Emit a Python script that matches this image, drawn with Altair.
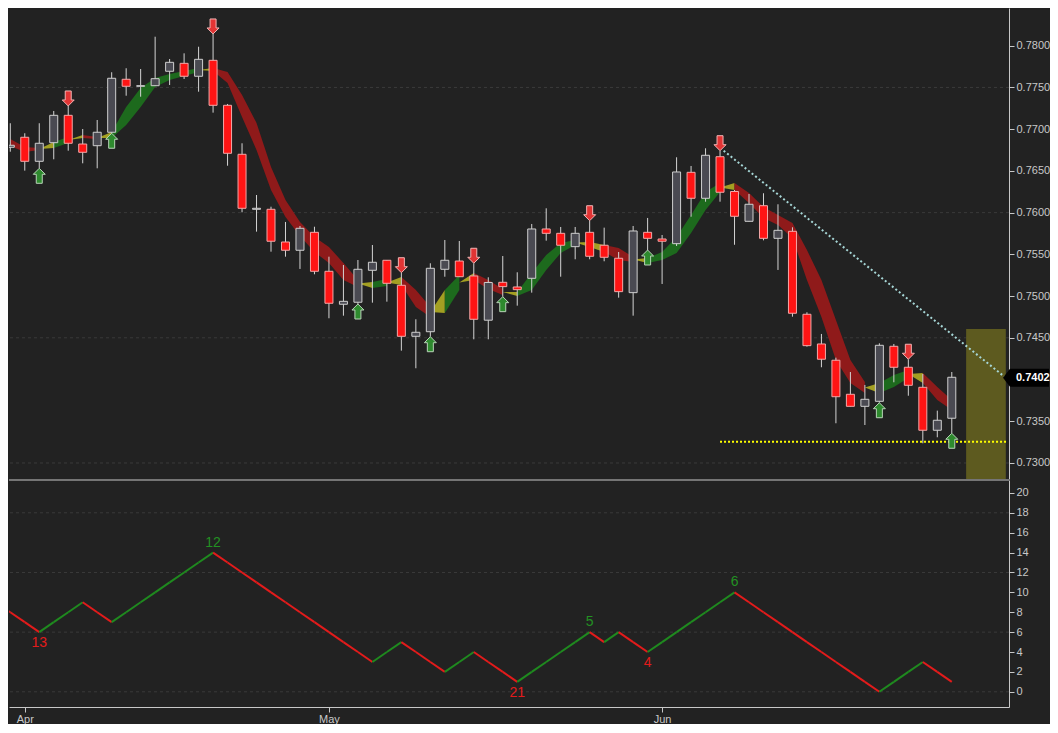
import altair as alt
import pandas as pd

# ---------------- data ----------------
# candle index 0 = Mar 30, one candle per trading day up to Jun 29
opens = [0.76783, 0.76903, 0.76615, 0.76838, 0.77166, 0.76822, 0.76802, 0.76963, 0.77598, 0.77514,
         0.77521, 0.77694, 0.77789, 0.77634, 0.77825, 0.77286, 0.76699, 0.76040, 0.76040, 0.75648,
         0.75549, 0.75764, 0.75297, 0.74902, 0.74926, 0.75309, 0.75429, 0.75129, 0.74518, 0.74573,
         0.75321, 0.75420, 0.75241, 0.74711, 0.75165, 0.75109, 0.75213, 0.75804, 0.75752, 0.75592,
         0.75764, 0.75609, 0.75453, 0.75041, 0.75764, 0.75684, 0.75628, 0.76483, 0.76172, 0.76670,
         0.76253, 0.75896, 0.76083, 0.75692, 0.75776, 0.74782, 0.74426, 0.74231, 0.73823, 0.73679,
         0.73739, 0.74398, 0.74147, 0.73907, 0.73392, 0.73536]
highs = [0.77071, 0.76951, 0.77071, 0.77218, 0.77278, 0.77002, 0.77110, 0.77682, 0.77730, 0.77721,
         0.78108, 0.77841, 0.77909, 0.77988, 0.78141, 0.77302, 0.76831, 0.76211, 0.76071, 0.75888,
         0.75840, 0.75831, 0.75472, 0.75372, 0.75432, 0.75612, 0.75432, 0.75280, 0.74722, 0.75393,
         0.75672, 0.75660, 0.75393, 0.75225, 0.75480, 0.75285, 0.75864, 0.76052, 0.75828, 0.75828,
         0.75903, 0.75820, 0.75528, 0.75840, 0.75936, 0.75732, 0.76663, 0.76559, 0.76771, 0.76742,
         0.76271, 0.76223, 0.76232, 0.76100, 0.75824, 0.74806, 0.74546, 0.74262, 0.74090, 0.73935,
         0.74434, 0.74426, 0.74243, 0.74066, 0.73627, 0.74090]
lows = [0.76730, 0.76503, 0.76531, 0.76639, 0.76742, 0.76591, 0.76531, 0.76951, 0.77401, 0.77389,
        0.77518, 0.77529, 0.77601, 0.77449, 0.77198, 0.76562, 0.76004, 0.75772, 0.75532, 0.75472,
        0.75325, 0.75261, 0.74734, 0.74765, 0.74905, 0.74921, 0.74933, 0.74346, 0.74135, 0.74513,
        0.75232, 0.75229, 0.74482, 0.74482, 0.74993, 0.74885, 0.75041, 0.75664, 0.75232, 0.75441,
        0.75441, 0.75417, 0.74981, 0.74765, 0.75552, 0.75145, 0.75600, 0.75951, 0.76131, 0.76131,
        0.75615, 0.75894, 0.75668, 0.75313, 0.74753, 0.74394, 0.74147, 0.73476, 0.73677, 0.73455,
        0.73722, 0.73967, 0.73806, 0.73236, 0.73308, 0.73356]
closes = [0.76807, 0.76615, 0.76831, 0.77166, 0.76831, 0.76723, 0.76963, 0.77610, 0.77514, 0.77521,
          0.77605, 0.77801, 0.77634, 0.77837, 0.77286, 0.76711, 0.76052, 0.76052, 0.75657, 0.75549,
          0.75812, 0.75297, 0.74914, 0.74937, 0.75321, 0.75405, 0.75153, 0.74518, 0.74566, 0.75333,
          0.75429, 0.75232, 0.74722, 0.75163, 0.75113, 0.75077, 0.75804, 0.75752, 0.75609, 0.75752,
          0.75477, 0.75465, 0.75053, 0.75780, 0.75692, 0.75657, 0.76487, 0.76172, 0.76687, 0.76244,
          0.75956, 0.76100, 0.75692, 0.75788, 0.74794, 0.74406, 0.74243, 0.73794, 0.73679, 0.73763,
          0.74410, 0.74147, 0.73931, 0.73392, 0.73512, 0.74027]

# trend ribbon edges, one pair per candle
ribbon_top = [0.76882, 0.76787, 0.76775, 0.76846, 0.76906, 0.76930, 0.76906, 0.76966, 0.77266, 0.77493,
              0.77613, 0.77661, 0.77697, 0.77733, 0.77733, 0.77685, 0.77410, 0.77074, 0.76547, 0.76151,
              0.75888, 0.75708, 0.75588, 0.75397, 0.75193, 0.75169, 0.75205, 0.75229, 0.75073, 0.74869,
              0.75073, 0.75253, 0.75277, 0.75193, 0.75085, 0.75049, 0.75277, 0.75492, 0.75636, 0.75672,
              0.75648, 0.75612, 0.75576, 0.75468, 0.75456, 0.75528, 0.75708, 0.75972, 0.76247, 0.76355,
              0.76355, 0.76235, 0.76067, 0.75972, 0.75876, 0.75552, 0.75193, 0.74713, 0.74234, 0.73970,
              0.73958, 0.74054, 0.74114, 0.74078, 0.73910, 0.73755]
ribbon_bot = [0.76798, 0.76727, 0.76751, 0.76775, 0.76834, 0.76894, 0.76882, 0.76894, 0.77050, 0.77266,
              0.77505, 0.77589, 0.77637, 0.77685, 0.77697, 0.77553, 0.77146, 0.76751, 0.76271, 0.75948,
              0.75720, 0.75528, 0.75397, 0.75193, 0.75109, 0.75097, 0.75121, 0.75133, 0.74869, 0.74749,
              0.74797, 0.75073, 0.75193, 0.75085, 0.75013, 0.75001, 0.75073, 0.75313, 0.75516, 0.75612,
              0.75588, 0.75528, 0.75432, 0.75409, 0.75397, 0.75432, 0.75516, 0.75756, 0.76032, 0.76247,
              0.76271, 0.76115, 0.75936, 0.75852, 0.75696, 0.75193, 0.74749, 0.74234, 0.73958, 0.73839,
              0.73839, 0.73910, 0.74018, 0.73958, 0.73755, 0.73635]
# state of each ribbon segment (candle i -> i+1): G up, R down, Y crossover
ribbon_state = ("RR" + "Y" + "G" + "Y" + "R" + "Y" + "GGGGGG" + "Y" + "RRRRRRRRRR" + "Y" + "G" + "Y"
                + "RR" + "Y" + "G" + "Y" + "RR" + "Y" + "GGGG" + "YY" + "RR" + "Y" + "GGGGG" + "Y"
                + "RRRRRRRRR" + "Y" + "GG" + "Y" + "RR")

down_arrows = [4, 14, 27, 32, 40, 49, 62]
up_arrows = [2, 7, 24, 29, 34, 44, 60, 65]

trend_idx = [49.25, 68.77]
trend_price = [0.76742, 0.74015]
support_idx = [49.0, 68.75]
support_price = [0.73255, 0.73255]
zone_idx = [65.99, 68.73]
zone_top = 0.74606
last_price = [0.7402]

# 0.7400 sits under the last-price box, so it is not labelled
price_ticks = [0.7300, 0.7350, 0.7450, 0.7500, 0.7550, 0.7600, 0.7650, 0.7700, 0.7750, 0.7800]
price_grid = [0.7300, 0.7450, 0.7600, 0.7750]

# swing counter, starting at candle index -1
swing_start = -1
swing_values = [9, 8, 7, 6, 7, 8, 9, 8, 7, 8, 9, 10, 11, 12, 13, 14, 13, 12, 11, 10, 9, 8, 7, 6, 5, 4, 3,
                4, 5, 4, 3, 2, 3, 4, 3, 2, 1, 2, 3, 4, 5, 6, 5, 6, 5, 4, 5, 6, 7, 8, 9, 10, 9, 8, 7, 6,
                5, 4, 3, 2, 1, 0, 1, 2, 3, 2, 1]
swing_label_idx = [2, 14, 35, 40, 44, 50]
swing_label_text = ["13", "12", "21", "5", "4", "6"]
swing_label_kind = ["low", "high", "low", "high", "low", "high"]
osc_ticks = [0, 2, 4, 6, 8, 10, 12, 14, 16, 18, 20]
osc_grid = [0, 6, 12, 18]

month_idx = [1, 22, 45]
month_names = ["Apr", "May", "Jun"]

# ---------------- layout / style ----------------
X_DOMAIN = [-0.089, 68.95]
PRICE_DOMAIN = [0.72808, 0.78452]
OSC_DOMAIN = [-1.53, 21.30]
W, H1, H2 = 1000, 471, 227
BG = "#222222"
AXC = "#c8c8c8"
FONT = "Liberation Sans"

xs = alt.Scale(domain=X_DOMAIN, nice=False, zero=False, padding=0)
ys = alt.Scale(domain=PRICE_DOMAIN, nice=False, zero=False)
os_ = alt.Scale(domain=OSC_DOMAIN, nice=False, zero=False)

candles = pd.DataFrame({"idx": range(len(opens)), "open": opens, "high": highs,
                        "low": lows, "close": closes})
candles["top"] = candles[["open", "close"]].max(axis=1)
candles["bot"] = candles[["open", "close"]].min(axis=1)
candles["kind"] = ["up" if c >= o else "down" for o, c in zip(opens, closes)]

# ribbon polygons: consecutive segments of one state form one run
rows = []
run_id = 0
i = 0
n_seg = len(ribbon_state)
while i < n_seg:
    s = ribbon_state[i]
    j = i
    while j + 1 < n_seg and ribbon_state[j + 1] == s:
        j += 1
    for k in range(i, j + 2):
        t, b = ribbon_top[k], ribbon_bot[k]
        if s == "Y" and k == i:
            t = b = (t + b) / 2
        rows.append({"idx": k, "top": t, "bot": b, "run": run_id, "state": s})
    run_id += 1
    i = j + 1
ribbon = pd.DataFrame(rows)

# one axis object per channel, shared by every layer of a panel
YA1 = alt.Axis(orient="right", values=price_ticks, format=".4f")
XA1 = None
YA2 = alt.Axis(orient="right", values=osc_ticks, format="d")
month_expr = "''"
for mi, mn in reversed(list(zip(month_idx, month_names))):
    month_expr = f"datum.value == {mi} ? '{mn}' : ({month_expr})"
XA2 = alt.Axis(orient="bottom", values=month_idx, labelExpr=month_expr, labelPadding=1)


def X1(f):
    return alt.X(f, scale=xs, axis=XA1)


def Y1(f):
    return alt.Y(f, scale=ys, axis=YA1)


def X2(f):
    return alt.X(f, scale=xs, axis=XA2)


def Y2(f):
    return alt.Y(f, scale=os_, axis=YA2)


grid_main = alt.Chart(pd.DataFrame({"level": price_grid})).mark_rule(
    color="#3a3a3a", strokeDash=[3, 3], strokeWidth=1
).encode(y=Y1("level:Q"))

zone = alt.Chart(pd.DataFrame({"x0": [zone_idx[0]], "x1": [zone_idx[1]],
                               "top": [zone_top], "bot": [PRICE_DOMAIN[0]]})).mark_rect(
    color="#5d5a1f", opacity=1
).encode(x=X1("x0:Q"), x2="x1:Q", y=Y1("top:Q"), y2="bot:Q")

ribbon_layer = alt.Chart(ribbon).mark_area(opacity=1, interpolate="linear", clip=True).encode(
    x=X1("idx:Q"), y=Y1("top:Q"), y2="bot:Q",
    color=alt.Color("state:N", scale=alt.Scale(domain=["G", "R", "Y"],
                                               range=["#1d6a1d", "#8f1a1a", "#a39f22"]), legend=None),
    detail="run:N",
)

wicks = alt.Chart(candles).mark_rule(color="#d4d4d4", strokeWidth=1, clip=True).encode(
    x=X1("idx:Q"), y=Y1("low:Q"), y2="high:Q")

bodies = alt.Chart(candles).mark_bar(size=8, strokeWidth=1, opacity=1, clip=True).encode(
    x=X1("idx:Q"), y=Y1("top:Q"), y2="bot:Q",
    fill=alt.Fill("kind:N", scale=alt.Scale(domain=["up", "down"], range=["#4a4a52", "#ff1414"]), legend=None),
    stroke=alt.Stroke("kind:N", scale=alt.Scale(domain=["up", "down"], range=["#cfcfcf", "#f2a8a8"]), legend=None),
)

trend = alt.Chart(pd.DataFrame({"idx": trend_idx, "price": trend_price})).mark_line(
    color="#a6d6d6", strokeWidth=2, strokeDash=[2, 2.5]
).encode(x=X1("idx:Q"), y=Y1("price:Q"))

support = alt.Chart(pd.DataFrame({"idx": support_idx, "price": support_price})).mark_line(
    color="#ffff00", strokeWidth=2, strokeDash=[2, 2]
).encode(x=X1("idx:Q"), y=Y1("price:Q"))

DOWN_PATH = "M0,0 L-0.8,-0.8 L-0.4,-0.8 L-0.4,-2 L0.4,-2 L0.4,-0.8 L0.8,-0.8 Z"
UP_PATH = "M0,0 L-0.8,0.8 L-0.4,0.8 L-0.4,2 L0.4,2 L0.4,0.8 L0.8,0.8 Z"

down_df = pd.DataFrame({"idx": down_arrows, "price": [highs[k] for k in down_arrows]})
up_df = pd.DataFrame({"idx": up_arrows, "price": [lows[k] for k in up_arrows]})

down_layer = alt.Chart(down_df).mark_point(
    shape=DOWN_PATH, size=225, filled=True, fill="#e23434", stroke="#f4b4b4", strokeWidth=1, opacity=1
).encode(x=X1("idx:Q"), y=Y1("price:Q"))

up_layer = alt.Chart(up_df).mark_point(
    shape=UP_PATH, size=225, filled=True, fill="#2e8a2e", stroke="#b8d4b8", strokeWidth=1, opacity=1
).encode(x=X1("idx:Q"), y=Y1("price:Q"))

BOX_PATH = "M-0.3,0 L0.05,-0.45 L2,-0.45 L2,0.45 L0.05,0.45 Z"
last_df = pd.DataFrame({"price": last_price})
box = alt.Chart(last_df).mark_point(
    shape=BOX_PATH, size=1600, filled=True, fill="#000000", strokeWidth=0, opacity=1
).encode(x=alt.value(W), y=Y1("price:Q"))
box_text = alt.Chart(last_df).mark_text(
    align="left", baseline="middle", dx=7, fontSize=11, fontWeight="bold", color="#ffffff", font=FONT
).encode(x=alt.value(W), y=Y1("price:Q"), text=alt.Text("price:Q", format=".4f"))

main = alt.layer(grid_main, zone, ribbon_layer, wicks, bodies, trend, support,
                 down_layer, up_layer, box, box_text).properties(width=W, height=H1)

# ---------------- oscillator panel ----------------
seg_rows = []
for k in range(len(swing_values) - 1):
    a, b = swing_values[k], swing_values[k + 1]
    seg_rows.append({"x0": swing_start + k, "x1": swing_start + k + 1, "v0": a, "v1": b,
                     "dir": "up" if b > a else "down"})
segs = pd.DataFrame(seg_rows)

label_df = pd.DataFrame({"idx": swing_label_idx, "text": swing_label_text, "kind": swing_label_kind,
                         "v": [swing_values[k - swing_start] for k in swing_label_idx]})

grid_osc = alt.Chart(pd.DataFrame({"level": osc_grid})).mark_rule(
    color="#3a3a3a", strokeDash=[3, 3], strokeWidth=1
).encode(y=Y2("level:Q"))

sep = alt.Chart(pd.DataFrame({"level": [OSC_DOMAIN[1]]})).mark_rule(color=AXC, strokeWidth=1).encode(
    y=Y2("level:Q"))

zig = alt.Chart(segs).mark_rule(strokeWidth=2, clip=True).encode(
    x=X2("x0:Q"), x2="x1:Q", y=Y2("v0:Q"), y2="v1:Q",
    color=alt.Color("dir:N", scale=alt.Scale(domain=["up", "down"], range=["#1f8a1f", "#e31b1b"]), legend=None),
)

lab_hi = alt.Chart(label_df).transform_filter("datum.kind == 'high'").mark_text(
    baseline="middle", dy=-10, fontSize=14, color="#239123", font=FONT
).encode(x=X2("idx:Q"), y=Y2("v:Q"), text="text:N")
lab_lo = alt.Chart(label_df).transform_filter("datum.kind == 'low'").mark_text(
    baseline="middle", dy=11, fontSize=14, color="#e31b1b", font=FONT
).encode(x=X2("idx:Q"), y=Y2("v:Q"), text="text:N")

osc = alt.layer(grid_osc, sep, zig, lab_hi, lab_lo).properties(width=W, height=H2)

chart = alt.vconcat(main, osc, spacing=0).resolve_scale(
    color="independent", fill="independent", stroke="independent"
).properties(
    background=BG, padding=0
).configure(
    font=FONT
).configure_view(
    stroke=None
).configure_axis(
    grid=False, title=None, tickSize=5, tickColor=AXC, domainColor=AXC,
    labelColor=AXC, labelFontSize=11, labelPadding=2, labelFont=FONT
)

chart.save("out.html", embed_options={"renderer": "svg", "actions": False})
